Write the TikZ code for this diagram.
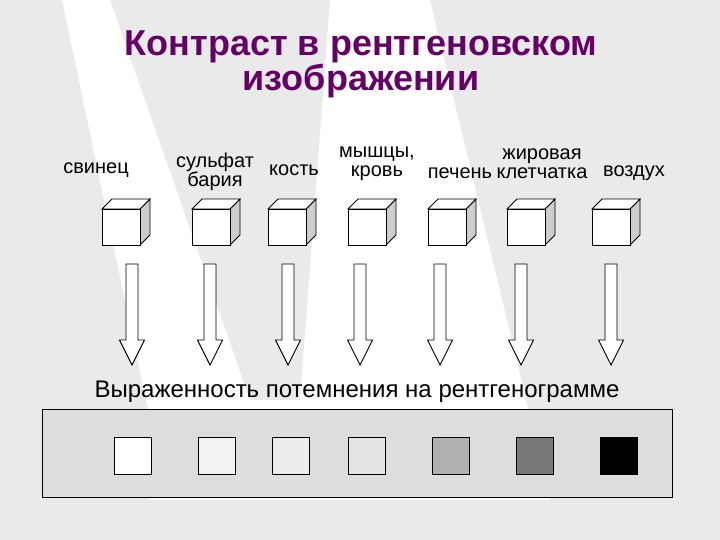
\documentclass[tikz,border=0pt]{standalone}
\usepackage{fontspec}
\setmainfont{Liberation Sans}
\usetikzlibrary{positioning}
\definecolor{titlepurple}{RGB}{102,0,102}
\definecolor{bggray}{RGB}{234,234,234}
\definecolor{bargray}{RGB}{221,221,221}
\definecolor{sidegray}{RGB}{205,205,205}
\tikzset{
  lbl/.style={font=\fontsize{20}{19}\selectfont,align=center,inner sep=0pt},
  swatch/.style={draw,line width=1pt,minimum width=37pt,minimum height=37pt,inner sep=0pt},
}

\begin{document}
\begin{tikzpicture}[x=1pt,y=-1pt,line width=0.9pt]
  \useasboundingbox (0,0) rectangle (720,540);
  % background of the slide
  \fill[bggray] (0,0) -- (62,0) -- (150,420) -- (150,540) -- (0,540) -- cycle;
  \fill[bggray] (110,0) -- (330,0) -- (300,400) -- (250,400) -- cycle;
  \fill[bggray] (430,0) -- (720,0) -- (720,540) -- (560,540) -- cycle;
  \fill[bggray] (0,500) rectangle (720,540);

  % title
  \node[font=\fontsize{36}{35}\selectfont\bfseries,text=titlepurple,align=center] (title) at (361,64)
    {Контраст в рентгеновском\\изображении};

  % substances
  \node[lbl] (lead) at (96,170) {свинец};
  \node[lbl] (barium) at (215,172) {сульфат\\бария};
  \node[lbl] (bone) at (294,170) {кость};
  \node[lbl] (muscle) at (377,164) {мышцы,\\кровь};
  \node[lbl] (liver) at (460,173) {печень};
  \node[lbl] (fat) at (542,164) {жировая\\клетчатка};
  \node[lbl] (air) at (634,173) {воздух};

  % cubes
  \foreach \x in {102,192,268,348,428,507,592} {
    \draw[fill=sidegray] (\x+38,209) -- (\x+48,199) -- (\x+48,235) -- (\x+38,245) -- cycle;
    \draw[fill=white] (\x,209) -- (\x+10,199) -- (\x+48,199) -- (\x+38,209) -- cycle;
    \draw[fill=white] (\x,209) rectangle (\x+38,245);
  }

  % block arrows
  \foreach \c in {132,210,288,360,440,521,611} {
    \draw[fill=white] (\c-6,264) -- (\c+6,264) -- (\c+6,340) -- (\c+12.5,340)
      -- (\c,365) -- (\c-12.5,340) -- (\c-6,340) -- cycle;
  }

  % film
  \node[lbl,font=\fontsize{24}{24}\selectfont] (caption) at (357,392)
    {Выраженность потемнения на рентгенограмме};
  \node[draw,fill=bargray,line width=1pt,minimum width=630pt,minimum height=88pt,inner sep=0pt]
    (film) at (357,453) {};
  \node[swatch,fill=white] (s1) at (132.5,455.5) {};
  \node[swatch,fill=black!5] (s2) at (216.5,455.5) {};
  \node[swatch,fill=black!7] (s3) at (291,455.5) {};
  \node[swatch,fill=black!11] (s4) at (367,455.5) {};
  \node[swatch,fill=black!31] (s5) at (451,455.5) {};
  \node[swatch,fill=black!53] (s6) at (535,455.5) {};
  \node[swatch,fill=black] (s7) at (618.5,455.5) {};
\end{tikzpicture}
\end{document}
